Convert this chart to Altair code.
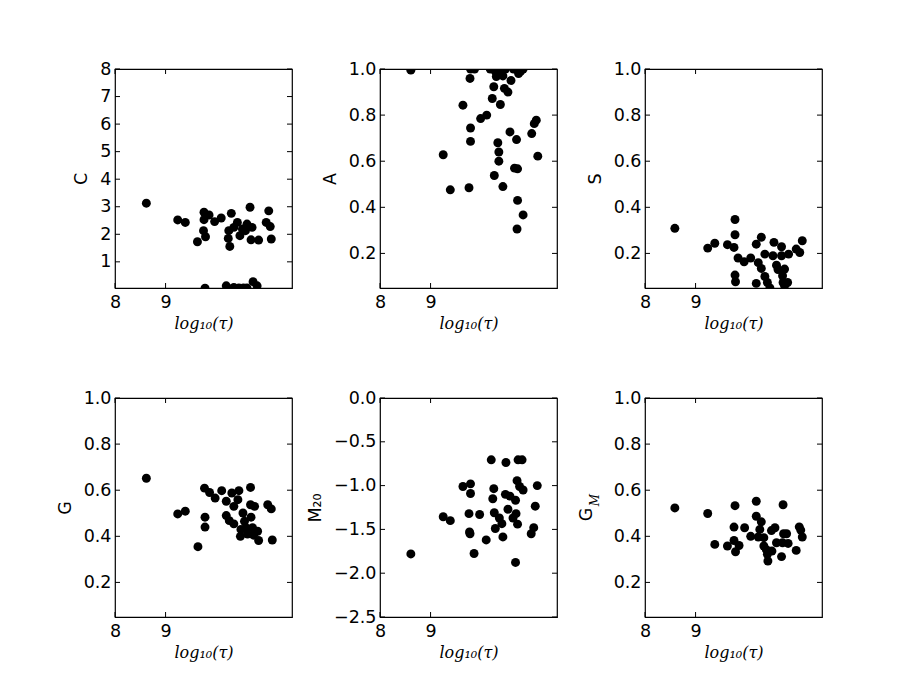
import altair as alt
import pandas as pd

# ---------------- data ----------------
x_ticks = [8, 9]

c_x = [8.62, 9.24, 9.39, 9.63, 9.76, 9.86, 9.76, 9.75, 9.79, 9.97, 10.10, 10.30, 10.24, 10.27, 10.25,
       10.35, 10.42, 10.47, 10.52, 10.58, 10.67, 10.71, 10.69, 10.84, 11.04, 10.99, 11.07, 11.09, 10.61,
       9.78, 10.20, 10.35, 10.45, 10.54, 10.73, 10.81, 10.61]
c_y = [3.13, 2.52, 2.43, 1.73, 2.80, 2.70, 2.53, 2.13, 1.91, 2.46, 2.59, 2.76, 1.85, 1.56, 2.13,
       2.25, 2.43, 1.95, 2.19, 2.13, 2.98, 2.25, 1.80, 1.79, 2.85, 2.43, 2.28, 1.83, 2.37,
       0.04, 0.13, 0.07, 0.05, 0.05, 0.28, 0.13, 0.05]

a_x = [8.61, 9.25, 9.39, 9.64, 9.76, 9.79, 9.79, 9.78, 9.79, 9.87, 9.99, 10.11, 10.22, 10.25, 10.38,
       10.26, 10.33, 10.35, 10.35, 10.43, 10.46, 10.53, 10.57, 10.70, 10.66, 10.72, 10.72, 10.71, 10.83,
       11.00, 11.05, 11.09, 11.12, 10.18, 10.28, 10.30, 10.38, 10.43, 10.48, 10.59, 10.64, 10.74, 10.78,
       10.83, 10.76]
a_y = [0.995, 0.628, 0.476, 0.843, 0.485, 0.744, 0.686, 0.959, 1.0, 1.0, 0.785, 0.80, 0.872, 0.923, 0.846,
       0.538, 0.68, 0.64, 0.60, 0.49, 0.916, 0.90, 0.727, 0.694, 0.57, 0.567, 0.43, 0.306, 0.367,
       0.72, 0.763, 0.778, 0.622, 1.0, 0.99, 0.967, 0.98, 0.97, 1.0, 0.95, 1.0, 0.98, 0.99,
       1.0, 1.0]

s_x = [8.59, 9.24, 9.38, 9.63, 9.76, 9.78, 9.78, 9.84, 9.96, 9.78, 9.79, 10.09, 10.20, 10.30, 10.24,
       10.30, 10.37, 10.20, 10.42, 10.37, 10.47, 10.55, 10.53, 10.60, 10.70, 10.70, 10.76, 10.72, 10.73,
       10.82, 10.84, 10.99, 11.06, 11.11, 10.76, 10.63]
s_y = [0.309, 0.223, 0.244, 0.238, 0.226, 0.347, 0.281, 0.18, 0.164, 0.106, 0.077, 0.18, 0.24, 0.27, 0.16,
       0.135, 0.10, 0.07, 0.074, 0.197, 0.05, 0.248, 0.19, 0.149, 0.229, 0.19, 0.132, 0.103, 0.074,
       0.074, 0.197, 0.219, 0.204, 0.255, 0.06, 0.13]

g_x = [8.62, 9.24, 9.39, 9.64, 9.77, 9.87, 9.98, 9.78, 9.78, 10.11, 10.20, 10.31, 10.45, 10.35, 10.43,
       10.20, 10.26, 10.35, 10.48, 10.53, 10.56, 10.59, 10.68, 10.68, 10.76, 10.69, 10.72, 10.82, 10.74,
       10.84, 11.02, 11.09, 11.11, 10.49, 10.62]
g_y = [0.652, 0.497, 0.509, 0.355, 0.609, 0.590, 0.566, 0.483, 0.44, 0.598, 0.552, 0.588, 0.598, 0.53, 0.559,
       0.49, 0.468, 0.454, 0.40, 0.501, 0.465, 0.437, 0.612, 0.537, 0.53, 0.483, 0.437, 0.422, 0.405,
       0.382, 0.537, 0.519, 0.384, 0.43, 0.41]

m_x = [8.61, 9.25, 9.39, 9.64, 9.79, 9.79, 9.76, 9.77, 9.78, 9.86, 9.97, 10.10, 10.20, 10.25, 10.23,
       10.26, 10.28, 10.36, 10.41, 10.43, 10.49, 10.48, 10.57, 10.68, 10.53, 10.63, 10.69, 10.72, 10.71,
       10.76, 10.83, 10.73, 10.81, 10.68, 10.99, 11.04, 11.07, 11.11]
m_y = [-1.78, -1.356, -1.40, -1.01, -0.98, -1.09, -1.32, -1.53, -1.55, -1.775, -1.33, -1.62, -0.706, -1.035, -1.15,
       -1.31, -1.49, -1.37, -1.435, -1.586, -0.736, -1.10, -1.12, -1.167, -1.27, -1.37, -1.32, -1.44, -0.944,
       -1.01, -1.05, -0.706, -0.706, -1.877, -1.55, -1.48, -1.235, -1.0]

gm_x = [8.59, 9.24, 9.38, 9.63, 9.78, 9.76, 9.76, 9.79, 9.86, 9.97, 10.09, 10.20, 10.20, 10.30, 10.27,
        10.24, 10.35, 10.35, 10.42, 10.43, 10.50, 10.57, 10.51, 10.60, 10.73, 10.74, 10.80, 10.72, 10.83,
        10.70, 11.05, 11.08, 11.11, 10.99, 10.40]
gm_y = [0.523, 0.499, 0.365, 0.358, 0.533, 0.44, 0.382, 0.333, 0.36, 0.437, 0.40, 0.552, 0.487, 0.463, 0.43,
        0.397, 0.394, 0.358, 0.322, 0.293, 0.425, 0.437, 0.336, 0.372, 0.537, 0.411, 0.411, 0.372, 0.369,
        0.312, 0.441, 0.427, 0.397, 0.339, 0.342]

ticks_c = [1, 2, 3, 4, 5, 6, 7, 8]
ticks_frac = [0.2, 0.4, 0.6, 0.8, 1.0]
ticks_m20 = [-2.5, -2.0, -1.5, -1.0, -0.5, 0.0]

# ---------------- layout / style ----------------
W, H = 177, 219
TICK = 5
LABEL_FONT = "DejaVu Sans"
FS = 17.5


def panel(xs, ys, ydomain, yticks, yfmt, ytitle, sub=None):
    xsc = alt.Scale(domain=[8, 11.5], nice=False, zero=False)
    ysc = alt.Scale(domain=ydomain, nice=False, zero=False)
    xaxis = alt.Axis(values=x_ticks, format="d", title="log₁₀(τ)", ticks=False, tickSize=0,
                     domain=False, grid=False, labelFont=LABEL_FONT, labelFontSize=FS,
                     labelColor="black", labelPadding=5, labelFlush=False, labelOverlap=False,
                     titleFont="DejaVu Serif", titleFontStyle="italic", titleFontWeight="normal",
                     titleFontSize=16, titleColor="black", titlePadding=5)
    yaxis = alt.Axis(values=yticks, format=yfmt, title=ytitle, ticks=False, tickSize=0,
                     domain=False, grid=False, labelFont=LABEL_FONT, labelFontSize=FS,
                     labelColor="black", labelPadding=4, labelFlush=False, labelOverlap=False,
                     titleFont=LABEL_FONT, titleFontWeight="normal", titleFontSize=FS,
                     titleColor="black", titlePadding=9)
    X = alt.X("x:Q", scale=xsc, axis=xaxis)
    Y = alt.Y("y:Q", scale=ysc, axis=yaxis)

    df = pd.DataFrame({"x": xs, "y": ys})
    pts = alt.Chart(df).mark_circle(size=80, color="black", opacity=1, clip=True).encode(x=X, y=Y)

    ydf = pd.DataFrame({"y": yticks})
    xdf = pd.DataFrame({"x": x_ticks})
    rule = dict(color="black", strokeWidth=1)
    lt = alt.Chart(ydf).mark_rule(**rule).encode(y=Y, x=alt.value(0), x2=alt.value(TICK))
    rt = alt.Chart(ydf).mark_rule(**rule).encode(y=Y, x=alt.value(W - TICK), x2=alt.value(W))
    bt = alt.Chart(xdf).mark_rule(**rule).encode(x=X, y=alt.value(H - TICK), y2=alt.value(H))
    tt = alt.Chart(xdf).mark_rule(**rule).encode(x=X, y=alt.value(0), y2=alt.value(TICK))
    layers = [pts, lt, rt, bt, tt]
    if sub is not None:
        main_t, sub_t = sub
        t1 = alt.Chart(pd.DataFrame({"t": [main_t]})).mark_text(
            font=LABEL_FONT, fontSize=FS, angle=270, color="black", align="center", baseline="middle"
        ).encode(text="t:N", x=alt.value(-58), y=alt.value(H / 2 + 7))
        t2 = alt.Chart(pd.DataFrame({"t": [sub_t]})).mark_text(
            font="DejaVu Serif", fontStyle="italic", fontSize=12, angle=270, color="black",
            align="center", baseline="middle"
        ).encode(text="t:N", x=alt.value(-50), y=alt.value(H / 2 - 7.5))
        layers += [t1, t2]
    return alt.layer(*layers).properties(width=W, height=H)


p1 = panel(c_x, c_y, [0.05, 8], ticks_c, "d", "C")
p2 = panel(a_x, a_y, [0.05, 1.0], ticks_frac, ".1f", "A")
p3 = panel(s_x, s_y, [0.05, 1.0], ticks_frac, ".1f", "S")
p4 = panel(g_x, g_y, [0.05, 1.0], ticks_frac, ".1f", "G")
p5 = panel(m_x, m_y, [-2.5, 0.0], ticks_m20, ".1f", "M₂₀")
p6 = panel(gm_x, gm_y, [0.05, 1.0], ticks_frac, ".1f", None, sub=("G", "M"))

chart = alt.concat(p1, p2, p3, p4, p5, p6, columns=3,
                   spacing={"row": 110, "column": 88}, bounds="flush").properties(
    padding={"left": 47, "top": 51, "right": 5, "bottom": 5},
    background="white",
).configure_view(stroke="black", strokeWidth=1.2)

chart.save("out.html", embed_options={"renderer": "svg", "actions": False})
